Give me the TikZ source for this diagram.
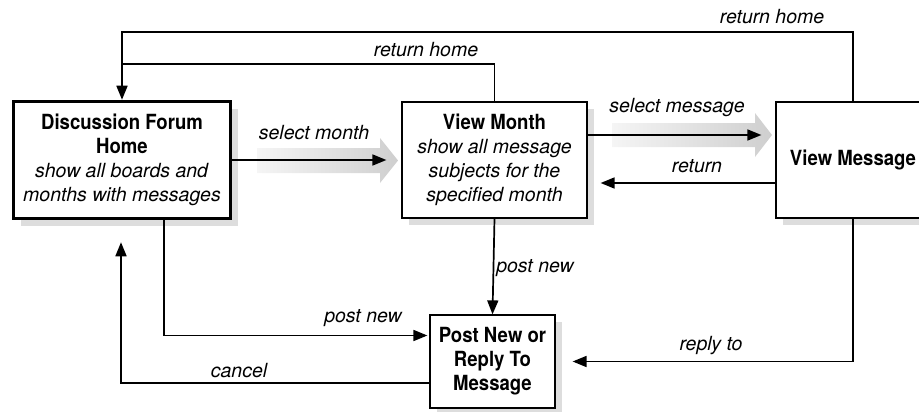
\documentclass[tikz,border=0pt]{standalone}
\usepackage{fontspec}
\setmainfont{TeX Gyre Heros}[BoldFeatures={Scale=1.07, FakeStretch=0.89}]
\usetikzlibrary{arrows.meta,shadows}

\tikzset{
  screen/.style={draw, fill=white, line width=1.2pt, align=center, inner sep=2pt,
    drop shadow={shadow xshift=7pt, shadow yshift=-7pt, fill=gray!45, opacity=0.6}},
  homescreen/.style={screen, line width=3.5pt},
  link/.style={line width=1.7pt, -{Triangle[length=14pt,width=11pt]}},
  track/.style={line width=1.7pt},
  linklabel/.style={font=\fontsize{19.5}{24}\selectfont\itshape, inner sep=0pt},
  hint/.style={left color=gray!8, right color=gray!38, draw=none},
}

\begin{document}
\begin{tikzpicture}[x = 1pt, y = -1pt, font=\fontsize{19.5}{24}\selectfont]
    \useasboundingbox (0,0) rectangle (919,412);
    % screens
    \node[homescreen, minimum width=217pt, minimum height=117pt] (home) at (122,160)
        {\textbf{Discussion Forum}\\ \textbf{Home}\\ \textit{show all boards and}\\ \textit{months with messages}};
    \node[screen, minimum width=185pt, minimum height=116pt] (vmon) at (494.5,160)
        {\textbf{View Month}\\ \textit{show all message}\\ \textit{subjects for the}\\ \textit{specified month}};
    \node[screen, minimum width=154pt, minimum height=116pt] (vmsg) at (853,160)
        {\textbf{View Message}};
    \node[screen, minimum width=125pt, minimum height=93pt] (post) at (492.5,361.5)
        {\textbf{Post New or}\\ \textbf{Reply To}\\ \textbf{Message}};
    \coordinate (toptrack) at (0,32);
    \coordinate (midtrack) at (0,64);
    % shaded hints behind the forward links
    \path[hint] (257,148) -- (380,148) -- (380,138) -- (398,160.5) -- (380,183) -- (380,173) -- (257,173) -- cycle;
    \path[hint] (612,123) -- (755,123) -- (755,113) -- (772,135) -- (755,157) -- (755,147) -- (612,147) -- cycle;
    % links
    \draw[link]
    (vmsg.north) -- (vmsg.north |- toptrack) -| (home.north);
    \draw[track]
    (vmon.north) |- (home.north |- midtrack);
    \draw[link, shorten >=15pt]
    (home.east) -- (vmon.west);
    \draw[link, shorten >=14pt]
    ([yshift=25pt]vmon.east) -- ([yshift=25pt]vmsg.west);
    \draw[link, shorten >=13pt]
    ([yshift=-23pt]vmsg.west) -- ([yshift=-23pt]vmon.east);
    \draw[link]
    (vmon.south) -- (post.north);
    \draw[link, shorten >=2pt]
    ([xshift=42pt]home.south) |- ([yshift=26pt]post.west);
    \draw[link, shorten >=22pt]
    ([yshift=-21.5pt]post.west) -| ([xshift=-1pt]home.south);
    \draw[link, shorten >=17pt]
    (vmsg.south) |- (post.east);
    % labels
    \node[linklabel] (rhouter) at (772,17) {return home};
    \node[linklabel] (rhinner) at (426,50) {return home};
    \node[linklabel] (selmonth) at (314,133) {select month};
    \node[linklabel] (selmsg) at (677,108) {select message};
    \node[linklabel] (back) at (697,166) {return};
    \node[linklabel] (postnewv) at (535,268) {post new};
    \node[linklabel] (postnewh) at (363,318) {post new};
    \node[linklabel] (cancel) at (239,371) {cancel};
    \node[linklabel] (reply) at (711,346) {reply to};
\end{tikzpicture}
\end{document}
